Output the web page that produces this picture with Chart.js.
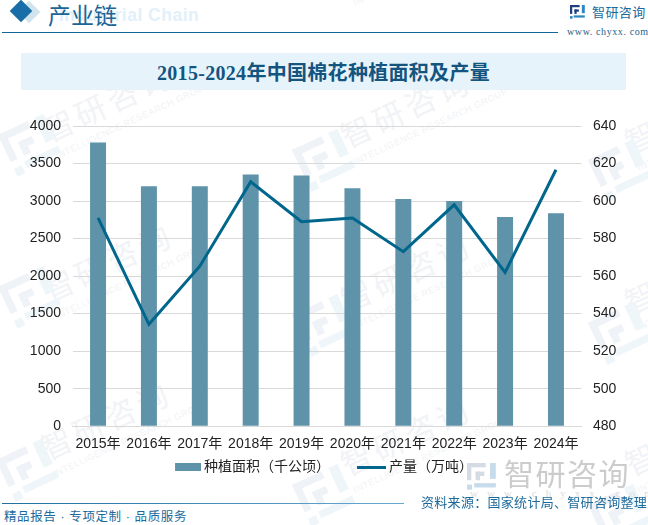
<!DOCTYPE html>
<html>
<head>
<meta charset="utf-8">
<script src="https://cdn.jsdelivr.net/npm/chart.js@4"></script>
<style>
  html, body { margin: 0; padding: 0; background: #fff; }
  body { position: relative; width: 648px; height: 525px; overflow: hidden; font-family: "Liberation Sans", "Noto Sans CJK SC", sans-serif; }
  .abs { position: absolute; white-space: nowrap; }
  .mark { color: #f1f3f6; font-size: 31px; line-height: 34px; letter-spacing: 4px; transform: rotate(-25deg); transform-origin: left center; }
  .mark small { display: block; font-size: 9px; line-height: 10px; letter-spacing: .6px; margin-top: 3px; }
  #wrap { position: absolute; left: 0; top: 106px; width: 648px; height: 378px; }
</style>
</head>
<body>
<div id="marks"></div>

<!-- header -->
<div class="abs" style="left:21px;top:4px;width:16px;height:16px;background:#d3e3ee;transform:rotate(45deg)"></div>
<div class="abs" style="left:13px;top:3px;width:16px;height:16px;background:#1a6ea8;transform:rotate(45deg)"></div>
<div class="abs" style="left:59px;top:5px;font-size:17.5px;font-weight:700;color:#e2f0fa;letter-spacing:.5px">Industrial Chain</div>
<div class="abs" style="left:48px;top:-1px;font-size:23px;line-height:30px;color:#1a6496;font-family:'Noto Sans CJK SC'">产业链</div>
<div class="abs" style="left:2px;top:32px;width:556px;height:1px;background:#0e6699"></div>
<div class="abs" style="left:592px;top:3px;font-size:13px;line-height:20px;color:#1c6a9c;letter-spacing:.4px">智研咨询</div>
<div class="abs" style="left:567px;top:26px;font-size:10px;line-height:12px;color:#1c5f8c;font-family:'Liberation Serif';letter-spacing:.6px">www. chyxx. com</div>

<!-- title band -->
<div class="abs" style="left:21px;top:53px;width:605px;height:37px;background:#e6f3fb"></div>
<div class="abs" style="left:21px;top:55px;width:605px;height:37px;line-height:37px;text-align:center;font-size:20px;letter-spacing:.3px;font-weight:700;color:#14557f;font-family:'Liberation Serif','Noto Sans CJK SC'">2015-2024年中国棉花种植面积及产量</div>

<div id="wrap"><canvas id="cottonChart"></canvas></div>

<!-- footer -->
<div class="abs" style="left:2px;top:503px;width:402px;height:1px;background:linear-gradient(90deg,#1f6f9f,#6aa9d0)"></div>
<div class="abs" style="left:4px;top:509px;font-size:12.5px;line-height:16px;color:#1c6a9c;letter-spacing:.6px">精品报告 · 专项定制 · 品质服务</div>
<div class="abs" style="left:470px;top:486px;font-size:11px;line-height:14px;color:#dcdcdc;letter-spacing:9px;font-family:'Liberation Serif'">www.chyxx.com</div>
<div class="abs" style="left:504px;top:458px;font-size:30px;line-height:34px;color:#cccccc;letter-spacing:1.5px">智研咨询</div>
<div class="abs" style="left:421px;top:495px;font-size:13px;line-height:16px;color:#1c6a9c;letter-spacing:.3px">资料来源：国家统计局、智研咨询整理</div>

<script>
// Cotton planting area and output
const years = ['2015年', '2016年', '2017年', '2018年', '2019年', '2020年', '2021年', '2022年', '2023年', '2024年'];
const plantingArea = [3779, 3198, 3197, 3354, 3339, 3169, 3028, 3000, 2787, 2838];
const cottonOutput = [591, 534.3, 565.3, 610.3, 589, 591, 573, 598, 562, 616.7];
const areaTicks = [0, 500, 1000, 1500, 2000, 2500, 3000, 3500, 4000];
const outputTicks = [480, 500, 520, 540, 560, 580, 600, 620, 640];

// faint watermarks behind the chart
const markSpots = [[48, 116], [48, 276], [46, 434], [346, 122], [346, 286], [346, 450], [630, 128], [630, 288], [630, 450], [48, -42], [346, -37]];
const logoSpots = [[-2, 117], [-2, 269], [-4, 442], [292, 132], [292, 297], [292, 467], [588, 142], [588, 305], [588, 487]];
const logoParts = [[0, 0, 26, 6], [0, 0, 6, 24], [12, 12, 12, 6], [12, 12, 6, 12], [32, 0, 8, 22], [10, 28, 30, 6], [0, 30, 7, 7]];

function addLogo(parent, left, top, scale, angle, dark, light) {
  const box = document.createElement('div');
  box.className = 'abs';
  box.style.cssText = 'left:' + left + 'px;top:' + top + 'px;width:40px;height:37px;transform-origin:left top;transform:rotate(' + angle + 'deg) scale(' + scale + ')';
  logoParts.forEach((r, i) => {
    const d = document.createElement('div');
    d.className = 'abs';
    d.style.cssText = 'left:' + r[0] + 'px;top:' + r[1] + 'px;width:' + r[2] + 'px;height:' + r[3] + 'px;background:' + (i < 4 ? dark : light);
    box.appendChild(d);
  });
  parent.appendChild(box);
}

const marks = document.getElementById('marks');
markSpots.forEach(p => {
  const el = document.createElement('div');
  el.className = 'abs mark';
  el.style.left = p[0] + 'px';
  el.style.top = p[1] + 'px';
  el.innerHTML = '智研咨询<small>INTELLIGENCE RESEARCH GROUP</small>';
  marks.appendChild(el);
});
logoSpots.forEach(p => addLogo(marks, p[0], p[1] + 18, 1.25, -25, '#eff2f6', '#eff6fa'));
addLogo(document.body, 570, 5, 0.37, 0, '#1d3f80', '#2f86c4');
addLogo(document.body, 467, 463, 0.72, 0, '#d5dbe5', '#c6dbec');

// legend swatches, blank on the left so they sit close to the label
function swatch(w, h, color) {
  const c = document.createElement('canvas');
  c.width = 30;
  c.height = h;
  const g = c.getContext('2d');
  g.fillStyle = color;
  g.fillRect(30 - w, 0, w, h);
  return c;
}

const barColor = '#5e93aa';
const lineColor = '#00668c';
const labelFont = { family: '"Liberation Sans", "Noto Sans CJK SC"', size: 14 };

const cottonCtx = document.getElementById('cottonChart').getContext('2d');
const cottonChart = new Chart(cottonCtx, {
  data: {
    labels: years,
    datasets: [
      {
        type: 'line',
        label: '产量（万吨）',
        data: cottonOutput,
        yAxisID: 'y2',
        borderColor: lineColor,
        backgroundColor: lineColor,
        borderWidth: 3,
        pointRadius: 0,
        tension: 0,
        order: 1
      },
      {
        type: 'bar',
        label: '种植面积（千公顷）',
        data: plantingArea,
        yAxisID: 'y',
        backgroundColor: barColor,
        barPercentage: 0.314,
        categoryPercentage: 1,
        order: 2
      }
    ]
  },
  options: {
    responsive: true,
    maintainAspectRatio: false,
    animation: false,
    layout: { padding: { left: 0, right: 0, top: 8, bottom: 0 } },
    plugins: {
      tooltip: { enabled: false },
      legend: {
        position: 'bottom',
        labels: {
          color: '#222',
          font: { family: labelFont.family, size: 14 },
          usePointStyle: true,
          pointStyleWidth: 22,
          boxHeight: 14,
          padding: 5,
          generateLabels() {
            return [
              { text: '种植面积（千公顷）\u3000\u3000\u00a0', pointStyle: swatch(26, 8, barColor), fontColor: '#222', datasetIndex: 1, lineWidth: 0, strokeStyle: 'transparent', fillStyle: barColor },
              { text: '产量（万吨）', pointStyle: swatch(29, 3, lineColor), fontColor: '#222', datasetIndex: 0, lineWidth: 0, strokeStyle: 'transparent', fillStyle: lineColor }
            ];
          }
        }
      }
    },
    scales: {
      x: {
        grid: { display: false },
        border: { color: '#d9d9d9' },
        ticks: { color: '#222', font: labelFont, maxRotation: 0, autoSkip: false, padding: 2 }
      },
      y: {
        position: 'left',
        min: 0,
        max: 4000,
        afterBuildTicks(axis) { axis.ticks = areaTicks.map(v => ({ value: v })); },
        afterFit(axis) { axis.width = 72.6; },
        grid: { color: '#d9d9d9', drawTicks: false },
        border: { display: false },
        ticks: { color: '#222', font: labelFont, padding: 11.6, callback: v => String(v) }
      },
      y2: {
        position: 'right',
        min: 480,
        max: 640,
        afterBuildTicks(axis) { axis.ticks = outputTicks.map(v => ({ value: v })); },
        afterFit(axis) { axis.width = 66.6; },
        grid: { display: false, drawTicks: false },
        border: { display: false },
        ticks: { color: '#222', font: labelFont, padding: 11.6, callback: v => String(v) }
      }
    }
  }
});
</script>
</body>
</html>
